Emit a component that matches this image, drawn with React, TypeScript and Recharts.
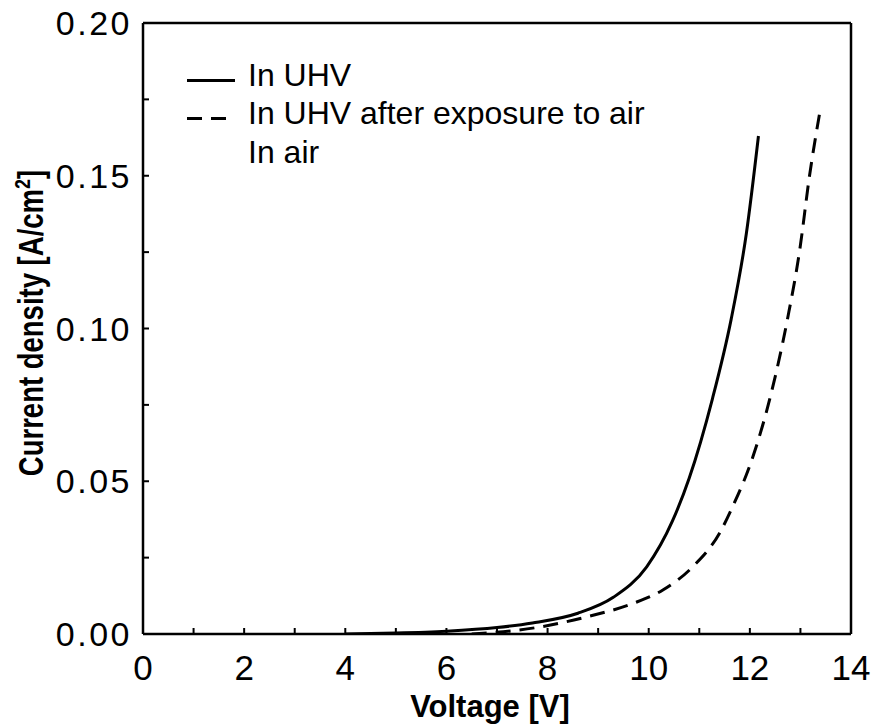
import { LineChart, Line, XAxis, YAxis, Legend, Label } from "recharts";

// solid curve: measured in UHV
const uhvVoltage = [4.0, 5.0, 6.0, 7.0, 7.7, 8.6, 9.3, 9.96, 10.47, 10.8, 11.26, 11.63, 11.93, 12.17];
const uhvCurrent = [0.0, 0.0003, 0.0009, 0.0021, 0.0036, 0.0068, 0.012, 0.022, 0.037, 0.051, 0.077, 0.103, 0.131, 0.163];

// dashed curve: back in UHV after air exposure
const exposedVoltage = [6.5, 7.85, 8.77, 9.69, 10.28, 10.87, 11.4, 11.66, 12.06, 12.39, 12.75, 12.98, 13.18, 13.38];
const exposedCurrent = [0.0, 0.0023, 0.0056, 0.01, 0.0144, 0.022, 0.033, 0.0417, 0.058, 0.0767, 0.1036, 0.125, 0.15, 0.1705];

const xTicks = [0, 1, 2, 3, 4, 5, 6, 7, 8, 9, 10, 11, 12, 13, 14];
const yTicks = [0, 0.025, 0.05, 0.075, 0.1, 0.125, 0.15, 0.175, 0.2];
const seriesNames = ["In UHV", "In UHV after exposure to air", "In air"];

const uhvData = uhvVoltage.map((v, i) => ({ v, j: uhvCurrent[i] }));
const exposedData = exposedVoltage.map((v, i) => ({ v, j: exposedCurrent[i] }));

const FONT = "'Liberation Sans', Arial, Helvetica, sans-serif";
const DASH = "15 9";
const AXIS = { stroke: "#000", strokeWidth: 2.5 };
const TICK = { stroke: "#000", strokeWidth: 2 };

function BottomTick({ x, y, payload }: any) {
  if (payload.value % 2 !== 0) return <g />;
  return (
    <text x={x} y={y + 46} textAnchor="middle" fontSize={35} fontFamily={FONT} fill="#000">
      {payload.value}
    </text>
  );
}

function LeftTick({ x, y, payload }: any) {
  if (Math.round(payload.value * 1000) % 50 !== 0) return <g />;
  return (
    <text x={x - 11} y={y + 12} textAnchor="end" fontSize={34} letterSpacing={2.5} fontFamily={FONT} fill="#000">
      {payload.value.toFixed(2)}
    </text>
  );
}

const noTick = () => <g />;

function LegendBox() {
  const dashes = ["", DASH, null];
  return (
    <div style={{ position: "relative", fontFamily: FONT, fontSize: 32, color: "#000", width: 480, height: 120 }}>
      {seriesNames.map((name, i) => (
        <div
          key={name}
          style={{ position: "absolute", left: 0, top: i * 38.7, height: 38.7, lineHeight: "38.7px", whiteSpace: "nowrap" }}
        >
          <svg width={63} height={38} style={{ position: "absolute", left: 0, top: 0 }}>
            {dashes[i] !== null && (
              <line x1={2} y1={24.5} x2={50} y2={24.5} stroke="#000" strokeWidth={3} strokeDasharray={dashes[i] || undefined} />
            )}
          </svg>
          <span style={{ position: "absolute", left: 63, top: 0 }}>{name}</span>
        </div>
      ))}
    </div>
  );
}

export default function App() {
  return (
    <div style={{ position: "absolute", left: 0, top: 0 }}>
      <LineChart width={875} height={728} margin={{ top: 22, right: 23, left: 0, bottom: 0 }}>
        <XAxis
          type="number"
          dataKey="v"
          domain={[0, 14]}
          ticks={xTicks}
          height={94}
          tickSize={-6}
          tickMargin={6}
          tick={BottomTick}
          axisLine={AXIS}
          tickLine={TICK}
          allowDataOverflow
        >
          <Label
            content={() => (
              <text x={490} y={717} textAnchor="middle" fontSize={31} fontWeight="bold" fontFamily={FONT} fill="#000">
                Voltage [V]
              </text>
            )}
          />
        </XAxis>
        <XAxis
          xAxisId="top"
          orientation="top"
          type="number"
          domain={[0, 14]}
          ticks={xTicks}
          height={1}
          tickSize={-6}
          tick={noTick}
          axisLine={AXIS}
          tickLine={TICK}
        />
        <YAxis
          type="number"
          domain={[0, 0.2]}
          ticks={yTicks}
          width={143}
          tickSize={-6}
          tickMargin={6}
          tick={LeftTick}
          axisLine={AXIS}
          tickLine={TICK}
          allowDataOverflow
        >
          <Label
            content={() => (
              <text
                transform="translate(43 323) rotate(-90) scale(1 1.27)"
                textAnchor="middle"
                fontSize={27.5}
                fontWeight="bold"
                fontFamily={FONT}
                fill="#000"
              >
                Current density [A/cm
                <tspan fontSize={18} dy={-10}>2</tspan>
                <tspan dy={10}>]</tspan>
              </text>
            )}
          />
        </YAxis>
        <YAxis
          yAxisId="right"
          orientation="right"
          type="number"
          domain={[0, 0.2]}
          ticks={yTicks}
          width={1}
          tickSize={-6}
          tick={noTick}
          axisLine={AXIS}
          tickLine={TICK}
        />
        <Legend
          layout="horizontal"
          verticalAlign="middle"
          align="center"
          content={() => <LegendBox />}
          wrapperStyle={{ position: "absolute", left: 185, top: 55.5, width: "auto" }}
        />
        <Line
          data={uhvData}
          dataKey="j"
          name={seriesNames[0]}
          type="monotone"
          stroke="#000"
          strokeWidth={3}
          dot={false}
          isAnimationActive={false}
        />
        <Line
          data={exposedData}
          dataKey="j"
          name={seriesNames[1]}
          type="monotone"
          stroke="#000"
          strokeWidth={3}
          strokeDasharray={DASH}
          dot={false}
          isAnimationActive={false}
        />
      </LineChart>
    </div>
  );
}
